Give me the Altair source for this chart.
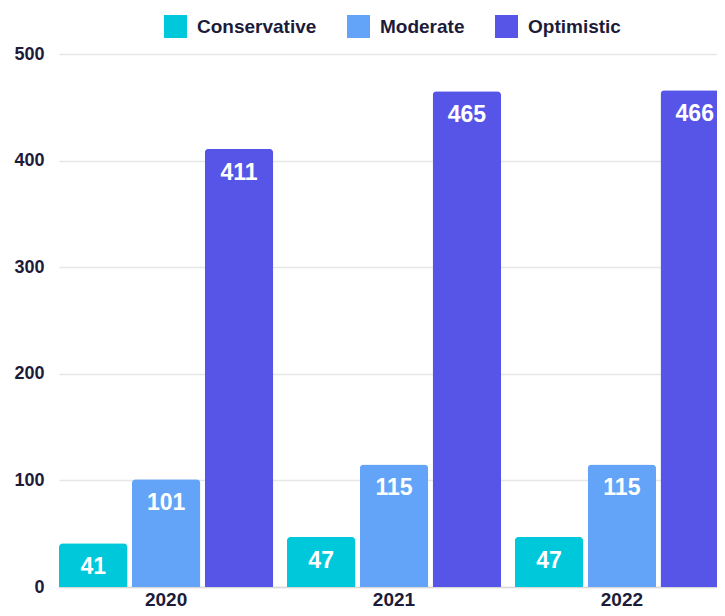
import altair as alt
import pandas as pd

years = ["2020", "2021", "2022"]
series = ["Conservative", "Moderate", "Optimistic"]
conservative = [41, 47, 47]
moderate = [101, 115, 115]
optimistic = [411, 465, 466]
colors = ["#00C8DB", "#63A4F8", "#5655E8"]
y_ticks = [0, 100, 200, 300, 400, 500]

rows = []
for i, yr in enumerate(years):
    for s, vals in zip(series, [conservative, moderate, optimistic]):
        rows.append({"year": yr, "series": s, "value": vals[i]})
df = pd.DataFrame(rows)

font = "Liberation Sans"
dark = "#1d1b3a"

x = alt.X(
    "year:N", sort=years, title=None,
    scale=alt.Scale(range=[0, 670], paddingInner=0.06, paddingOuter=0),
    axis=alt.Axis(labelAngle=0, labelFont=font, labelFontSize=19, labelFontWeight="bold",
                  labelColor=dark, labelPadding=3, labelBaseline="top", ticks=False,
                  domainColor="#d9d9d9", domainWidth=1.5, grid=False),
)
xoff = alt.XOffset("series:N", sort=series, scale=alt.Scale(paddingInner=0.06, paddingOuter=0))
y = alt.Y(
    "value:Q", title=None, scale=alt.Scale(domain=[0, 500]),
    axis=alt.Axis(values=y_ticks, labelFont=font, labelFontSize=18, labelFontWeight="bold",
                  labelColor=dark, labelPadding=15, ticks=False, domain=False,
                  gridColor="#e6e6e6", gridWidth=1.5),
)
color = alt.Color(
    "series:N", sort=series, scale=alt.Scale(domain=series, range=colors),
    legend=alt.Legend(orient="none", legendX=105, legendY=-39, direction="horizontal", title=None,
                      symbolType="square", symbolSize=529, symbolStrokeWidth=0,
                      labelFont=font, labelFontSize=19, labelFontWeight="bold", labelColor=dark,
                      labelOffset=10, columnPadding=30, padding=0),
)

bars = alt.Chart(df).mark_bar(cornerRadiusTopLeft=4, cornerRadiusTopRight=4).encode(
    x=x, xOffset=xoff, y=y, color=color
)
labels = alt.Chart(df).mark_text(color="white", font=font, fontSize=23, fontWeight="bold",
                                 baseline="alphabetic", dy=31).encode(
    x=x, xOffset=xoff, y=y, text="value:Q"
)

chart = (bars + labels).properties(
    width=658, height=533, autosize="none",
    padding={"left": 51, "top": 46, "right": 0, "bottom": 21},
).configure_view(stroke=None)

chart.save("out.html", embed_options={"renderer": "svg", "actions": False})
